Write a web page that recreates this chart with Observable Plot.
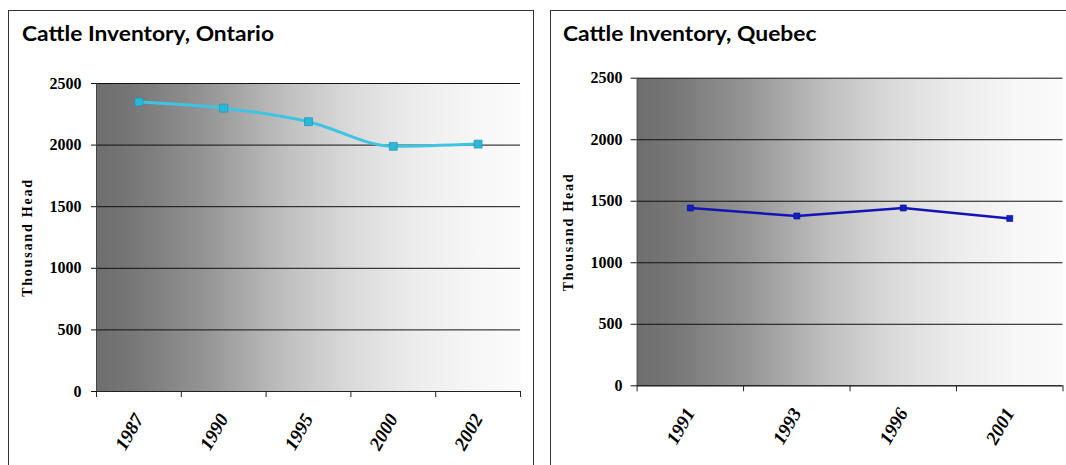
<!DOCTYPE html>
<html><head><meta charset="utf-8">
<script src="https://cdn.jsdelivr.net/npm/d3@7"></script>
<script src="https://cdn.jsdelivr.net/npm/@observablehq/plot@0.6"></script>
<style>
body{margin:0;width:1066px;height:465px;overflow:hidden;background:#fff;position:relative;font-family:"Liberation Serif",serif}
.panel{position:absolute;top:10px;height:480px;border:1px solid #333;box-sizing:border-box;background:#fff}
.title{position:absolute;top:22px;font-family:Lato,sans-serif;font-weight:700;font-size:21px;line-height:1;white-space:nowrap;transform-origin:0 0;color:#000}
.chart{position:absolute}
.chart svg{overflow:visible}
.chart g[aria-label="text"] text{letter-spacing:1.8px}
</style></head><body>
<div class="panel" style="left:8px;width:526px"></div>
<div class="panel" style="left:550px;width:530px"></div>
<div class="title" id="t1" style="left:22px">Cattle Inventory, Ontario</div>
<div class="title" id="t2" style="left:563px">Cattle Inventory, Quebec</div>
<div class="chart" id="c1" style="left:8px;top:55px"></div>
<div class="chart" id="c2" style="left:550px;top:50px"></div>
<script>
// ---- data ----
const ontarioYears = ["1987", "1990", "1995", "2000", "2002"];
const ontarioValues = [2350, 2300, 2190, 1990, 2008];
const quebecYears = ["1991", "1993", "1996", "2001"];
const quebecValues = [1445, 1380, 1445, 1360];
const yTicks = [0, 500, 1000, 1500, 2000, 2500];
const yLabel = "Thousand Head";

function drawChart(o) {
  const n = o.years.length;
  const data = o.years.map((y, i) => ({i, year: y, value: o.values[i]}));
  const idx = o.years.map((_, i) => i);
  const bounds = d3.range(n + 1).map(i => i - 0.5);
  const svg = Plot.plot({
    width: o.marginLeft + o.plotWidth + o.marginRight,
    height: o.marginTop + o.plotHeight + o.marginBottom,
    marginLeft: o.marginLeft, marginRight: o.marginRight,
    marginTop: o.marginTop, marginBottom: o.marginBottom,
    style: {fontFamily: "'Liberation Serif', serif", fontWeight: "bold", fontSize: "16px", color: "#000", background: "transparent"},
    x: {type: "linear", domain: [-0.5, n - 0.5]},
    y: {domain: [0, 2500]},
    marks: [
      Plot.frame({fill: `url(#${o.gradId})`, stroke: null}),
      Plot.gridY({ticks: yTicks, stroke: "#111", strokeOpacity: 1}),
      Plot.axisY({ticks: yTicks, tickSize: o.yTickSize, tickPadding: o.yTickPadding, tickFormat: d => String(d), stroke: "#111", label: null, fontSize: 16}),
      Plot.ruleX([-0.5], {stroke: "#444"}),
      Plot.ruleY([0], {stroke: "#222"}),
      Plot.axisX({ticks: bounds, tickSize: 6, tickFormat: () => "", stroke: "#222", label: null}),
      Plot.axisX({ticks: idx, tickSize: 0, tickPadding: 24, tickRotate: -60, tickFormat: i => o.years[i], fontSize: 19, fontStyle: "italic", label: null}),
      Plot.text([yLabel], {frameAnchor: "left", dx: o.labelDx, rotate: -90, textAnchor: "middle", fontSize: 14, fontWeight: "bold", fill: "#000"}),
      Plot.line(data, {x: "i", y: "value", stroke: o.color, strokeWidth: o.lineWidth, curve: o.curve}),
      Plot.dot(data, {x: "i", y: "value", symbol: "square", r: o.r, fill: o.markColor, stroke: o.markStroke, strokeWidth: 0.6})
    ]
  });
  svg.insertAdjacentHTML("afterbegin",
    `<defs><linearGradient id="${o.gradId}" x1="0" x2="1" y1="0" y2="0">
      <stop offset="0" stop-color="#6e6e6e"/>
      <stop offset="0.08" stop-color="#767676"/>
      <stop offset="0.25" stop-color="#939393"/>
      <stop offset="0.45" stop-color="#c0c0c0"/>
      <stop offset="0.6" stop-color="#dadada"/>
      <stop offset="0.75" stop-color="#ececec"/>
      <stop offset="0.9" stop-color="#f7f7f7"/>
      <stop offset="1" stop-color="#fbfbfb"/>
    </linearGradient></defs>`);
  document.getElementById(o.id).appendChild(svg);
}

drawChart({
  id: "c1", gradId: "gradon", years: ontarioYears, values: ontarioValues,
  color: "#3ec4e2", lineWidth: 3, curve: "monotone-x", r: 4.5, markColor: "#2bb8d8", markStroke: "#1a8fb0",
  marginLeft: 96 - 8, plotWidth: 520 - 96, marginRight: 533 - 520,
  marginTop: 83 - 55, plotHeight: 391 - 83, marginBottom: 465 - 391,
  yTickSize: 5, yTickPadding: 10, labelDx: 27.5 - 96
});
drawChart({
  id: "c2", gradId: "gradqc", years: quebecYears, values: quebecValues,
  color: "#1414b4", lineWidth: 2.5, curve: "linear", r: 3.4, markColor: "#1020c0", markStroke: "#0a0a90",
  marginLeft: 636.6 - 550, plotWidth: 1062.5 - 636.6, marginRight: 1066 - 1062.5,
  marginTop: 77.7 - 50, plotHeight: 385.3 - 77.7, marginBottom: 465 - 385.3,
  yTickSize: 6, yTickPadding: 8.5, labelDx: 568.4 - 636.6
});

function fitTitle(id, w) {
  const el = document.getElementById(id);
  const cw = el.getBoundingClientRect().width;
  el.style.transform = `scaleX(${w / cw})`;
}
fitTitle("t1", 252);
fitTitle("t2", 253.5);
</script>
</body></html>
